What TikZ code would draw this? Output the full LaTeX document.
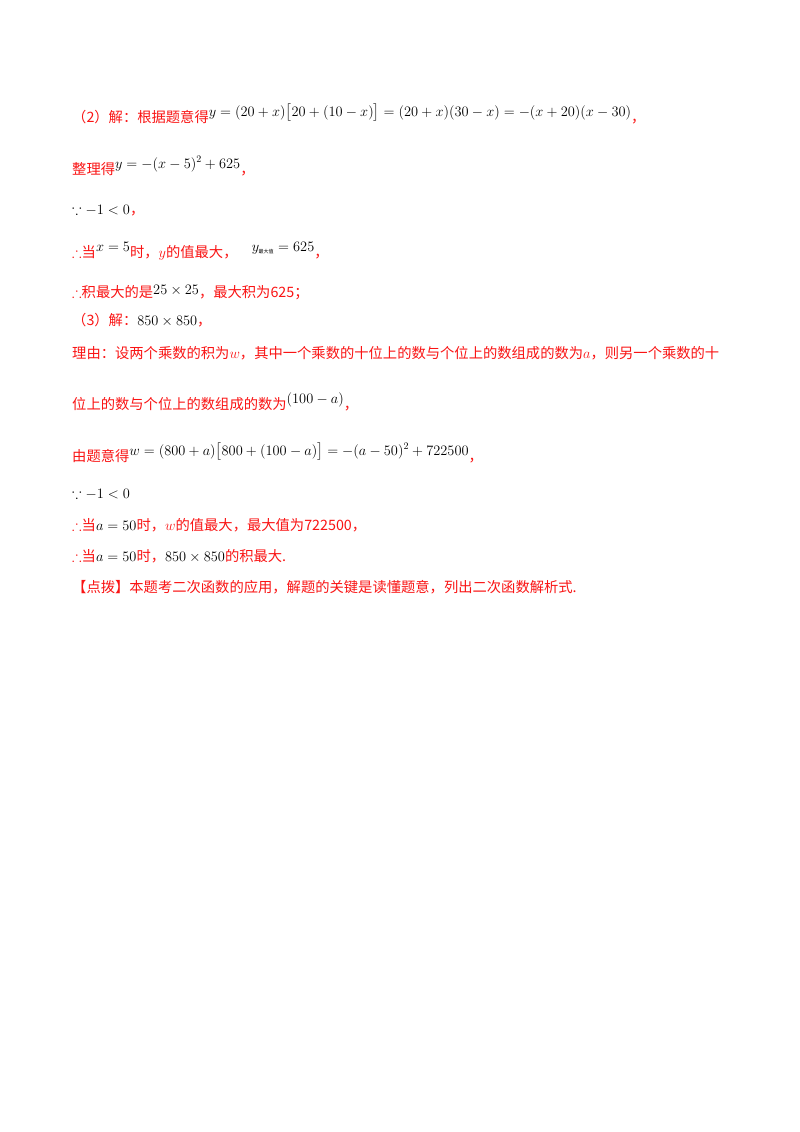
\documentclass[tikz,border=0pt]{standalone}
\usepackage{fontspec}
\usepackage{amsmath,amssymb}
\newfontfamily\cjk{Noto Sans CJK SC}
\definecolor{rd}{RGB}{250,20,20}
\newcommand{\rr}[1]{\textcolor{rd}{#1}}
\newcommand{\up}[1]{\raisebox{6pt}{\textcolor{black}{$#1$}}}
\newcommand{\tf}{\textbf{$\boldsymbol{\therefore}$}}
\begin{document}
\begin{tikzpicture}[x=1pt,y=-1pt,
  ln/.style={anchor=base west,inner sep=0pt,font=\cjk\fontsize{14.3}{17}\selectfont,text=rd}]
\useasboundingbox[fill=white] (0,0) rectangle (800,1132);
\node[ln] (l1) at (72,122) {（2）解：根据题意得\up{y=(20+x)\bigl[20+(10-x)\bigr]=(20+x)(30-x)=-(x+20)(x-30)}，};
\node[ln] (l2) at (72,174) {整理得\up{y=-(x-5)^2+625}，};
\node[ln] (l3) at (72,214) {\textcolor{black}{$\because -1<0$}，};
\node[ln] (l4) at (72,257) {\tf 当\up{x=5}时，$y$的值最大，\quad\up{y_{\text{\cjk\tiny 最大值}}=625}，};
\node[ln] (l5) at (72,297) {\tf 积最大的是\textcolor{black}{\raisebox{3pt}{$25\times25$}}，最大积为625；};
\node[ln] (l6) at (72,325) {（3）解：\textcolor{black}{$850\times850$}，};
\node[ln] (l7) at (72,358) {理由：设两个乘数的积为$w$，其中一个乘数的十位上的数与个位上的数组成的数为$a$，则另一个乘数的十};
\node[ln] (l8) at (72,409) {位上的数与个位上的数组成的数为\up{(100-a)}，};
\node[ln] (l9) at (72,461) {由题意得\up{w=(800+a)\bigl[800+(100-a)\bigr]=-(a-50)^2+722500}，};
\node[ln] (l10) at (72,498) {\textcolor{black}{$\because -1<0$}};
\node[ln] (l11) at (72,530) {\tf 当\textcolor{black}{$a=50$}时，$w$的值最大，最大值为722500，};
\node[ln] (l12) at (72,561) {\tf 当\textcolor{black}{$a=50$}时，\textcolor{black}{$850\times850$}的积最大.};
\node[ln] (l13) at (72,592) {【点拨】本题考二次函数的应用，解题的关键是读懂题意，列出二次函数解析式.};
\end{tikzpicture}
\end{document}
